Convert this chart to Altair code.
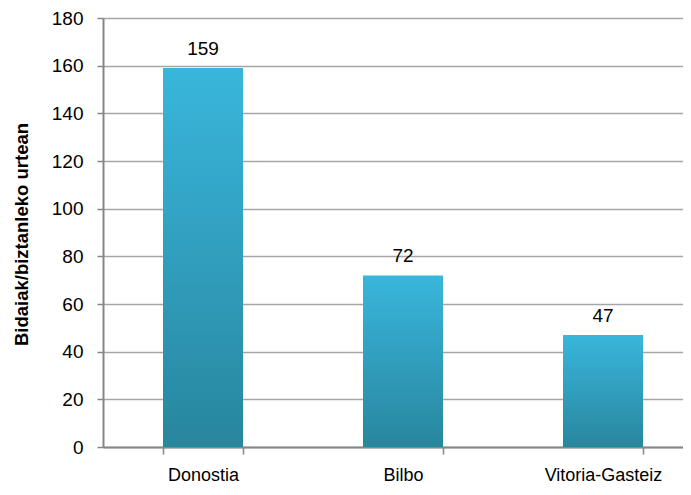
import altair as alt
import pandas as pd

cities = ["Donostia", "Bilbo", "Vitoria-Gasteiz"]
values = [159, 72, 47]
y_ticks = [0, 20, 40, 60, 80, 100, 120, 140, 160, 180]

df = pd.DataFrame({"city": cities, "value": values})

FONT = "Liberation Sans"

x = alt.X(
    "city:N",
    sort=cities,
    scale=alt.Scale(range=[0, 600], paddingInner=0.6, paddingOuter=0.3),
    axis=alt.Axis(
        title=None,
        labelAngle=0,
        labelFont=FONT,
        labelFontSize=18,
        labelColor="#000000",
        labelPadding=12,
        tickBand="extent",
        tickColor="#868686",
        tickSize=7,
        tickWidth=1.5,
        domainColor="#868686",
        domainWidth=2,
        grid=False,
    ),
)

y = alt.Y(
    "value:Q",
    scale=alt.Scale(domain=[0, 180], nice=False),
    axis=alt.Axis(
        title="Bidaiak/biztanleko  urtean",
        titleFont=FONT,
        titleFontSize=18.5,
        titleFontWeight="bold",
        titleColor="#000000",
        titleX=-82,
        titleY=216,
        titleAngle=270,
        titleAlign="center",
        titleBaseline="middle",
        values=y_ticks,
        labelFont=FONT,
        labelFontSize=19,
        labelColor="#000000",
        labelPadding=14,
        tickColor="#868686",
        tickSize=6,
        tickWidth=1.5,
        domainColor="#868686",
        domainWidth=2,
        grid=True,
        gridColor="#A6A6A6",
        gridWidth=1.5,
    ),
)

bars = alt.Chart(df).mark_bar(
    color=alt.Gradient(
        gradient="linear",
        stops=[
            alt.GradientStop(color="#39B6DC", offset=0),
            alt.GradientStop(color="#28869E", offset=1),
        ],
        x1=0, x2=0, y1=0, y2=1,
    )
).encode(x=x, y=y)

labels = alt.Chart(df).mark_text(
    font=FONT, fontSize=19, color="#000000", dy=-19, baseline="middle"
).encode(x=alt.X("city:N", sort=cities), y="value:Q", text="value:Q")

chart = (
    alt.layer(bars, labels)
    .properties(
        width=580,
        height=429,
        autosize=alt.AutoSizeParams(type="none"),
        padding={"left": 95, "top": 10, "right": 0, "bottom": 40},
    )
    .configure_view(stroke=None)
)

chart.save("out.html", embed_options={"renderer": "svg", "actions": False})
